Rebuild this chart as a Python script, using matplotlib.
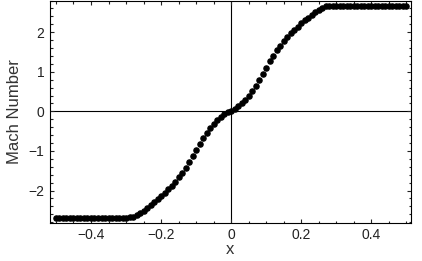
import numpy as np
import matplotlib
matplotlib.use("Agg")
import matplotlib.pyplot as plt
from matplotlib.ticker import MultipleLocator

# Mach number, right half x = 0.00 .. 0.50 (step 0.01)
x_right = [round(0.01 * i, 2) for i in range(51)]
mach_right = [
    0.00, 0.07, 0.14, 0.21, 0.29, 0.40, 0.52, 0.65, 0.79, 0.94,
    1.10, 1.26, 1.41, 1.54, 1.66, 1.77, 1.88, 1.97, 2.06, 2.14,
    2.22, 2.30, 2.37, 2.44, 2.51, 2.57, 2.62, 2.65, 2.67, 2.67,
    2.67, 2.67, 2.67, 2.67, 2.67, 2.67, 2.67, 2.67, 2.67, 2.67,
    2.67, 2.67, 2.67, 2.67, 2.67, 2.67, 2.67, 2.67, 2.67, 2.67,
    2.67,
]
# left half, x = -0.50 .. -0.01
x_left = [round(-0.5 + 0.01 * i, 2) for i in range(50)]
mach_left = [
    -2.69, -2.69, -2.69, -2.69, -2.69, -2.69, -2.69, -2.69, -2.69, -2.69,
    -2.69, -2.69, -2.69, -2.69, -2.69, -2.69, -2.69, -2.69, -2.69, -2.69,
    -2.69, -2.68, -2.66, -2.62, -2.57, -2.51, -2.44, -2.37, -2.30, -2.22,
    -2.14, -2.06, -1.97, -1.88, -1.78, -1.67, -1.55, -1.42, -1.28, -1.13,
    -0.98, -0.83, -0.68, -0.54, -0.42, -0.31, -0.22, -0.14, -0.07, -0.02,
]

x = x_left + x_right
mach = mach_left + mach_right

plt.rcParams["font.family"] = ["Liberation Sans", "DejaVu Sans"]

fig = plt.figure(figsize=(4.22, 2.61), dpi=100)
ax = fig.add_axes([0.1185, 0.147, 0.855, 0.851])

ax.axhline(0, color="black", lw=0.8, zorder=1)
ax.axvline(0, color="black", lw=0.8, zorder=1)
ax.plot(x, mach, "o", color="black", ms=3.7, mec="black", zorder=3)

ax.set_xlim(-0.517, 0.513)
ax.set_ylim(-2.81, 2.80)
ax.xaxis.set_minor_locator(MultipleLocator(0.05))
ax.yaxis.set_minor_locator(MultipleLocator(0.2))
ax.set_xticks([-0.4, -0.2, 0, 0.2, 0.4])
ax.set_xticklabels(["\u22120.4", "\u22120.2", "0", "0.2", "0.4"])
ax.set_yticks([-2, -1, 0, 1, 2])
ax.set_yticklabels(["\u22122", "\u22121", "0", "1", "2"])

ax.tick_params(which="both", direction="in", top=True, right=True,
               width=0.8, labelsize=10, colors="#222222")
ax.tick_params(which="major", length=3.2, pad=4)
ax.tick_params(which="minor", length=1.8)
for s in ax.spines.values():
    s.set_linewidth(0.8)

ax.set_xlabel("x", fontsize=12, labelpad=0, color="#333333")
ax.set_ylabel("Mach Number", fontsize=12, labelpad=5, color="#333333")

fig.savefig("out.png", dpi=100)
